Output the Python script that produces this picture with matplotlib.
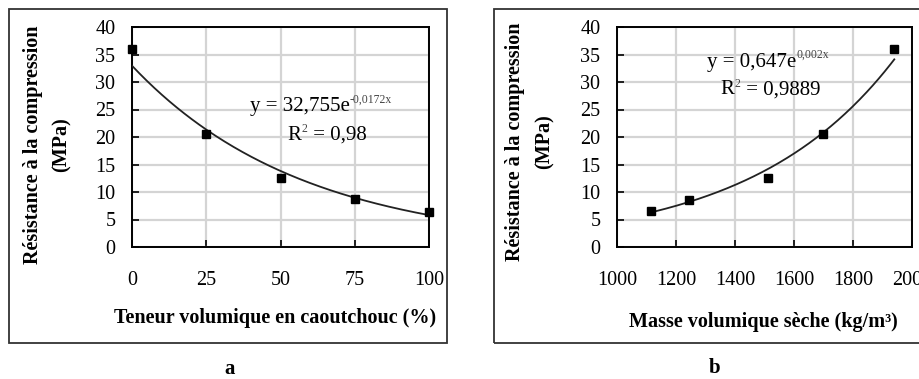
import numpy as np
import matplotlib
matplotlib.use("Agg")
import matplotlib.pyplot as plt
from matplotlib.patches import Rectangle

plt.rcParams['font.family'] = ['Liberation Serif', 'DejaVu Serif']

# Panel a data
rubber_pct = [0, 25, 50, 75, 100]
strength_a = [36.0, 20.5, 12.5, 8.7, 6.3]
# Panel b data
density = [1114, 1245, 1512, 1698, 1938]
strength_b = [6.5, 8.5, 12.6, 20.6, 36.0]

xticks_a = [0, 25, 50, 75, 100]
xticks_b = [1000, 1200, 1400, 1600, 1800, 2000]
yticks = [0, 5, 10, 15, 20, 25, 30, 35, 40]

W, H = 920, 379
fig = plt.figure(figsize=(W / 100, H / 100), dpi=100)

def fx(px):
    return px / W

def fy(py):
    return 1 - py / H

grid_c = '#d4d4d4'
fs_tick = 14.5
fs_lab = 14.5
fs_ann = 15

def style(ax, xlim, xt):
    ax.set_xlim(*xlim)
    ax.set_ylim(0, 40)
    ax.set_xticks(xt)
    ax.set_yticks(yticks)
    ax.grid(True, color=grid_c, linewidth=1.6)
    ax.set_axisbelow(True)
    for s in ax.spines.values():
        s.set_color('black')
        s.set_linewidth(1.4)
    ax.tick_params(axis='both', direction='in', length=5, width=1.2, labelsize=fs_tick)
    ax.tick_params(axis='x', pad=17)
    ax.tick_params(axis='y', pad=12)

# Panel a
axa = fig.add_axes([fx(132), fy(247), fx(429 - 132), (247 - 27) / H])
style(axa, (0, 100), xticks_a)
ca = np.polyfit(rubber_pct, np.log(strength_a), 1)
xa = np.linspace(0, 100, 200)
axa.plot(xa, np.exp(ca[1]) * np.exp(ca[0] * xa), color='#222222', lw=1.3, zorder=3)
axa.plot(rubber_pct, strength_a, 's', color='black', ms=5.5, clip_on=False, zorder=4)

# Panel b
axb = fig.add_axes([fx(617), fy(247), fx(912 - 617), (247 - 27) / H])
style(axb, (1000, 2000), xticks_b)
axb.set_xticklabels([str(v) for v in xticks_b])
cb = np.polyfit(density, np.log(strength_b), 1)
xb = np.linspace(min(density) + 15, max(density) + 2, 200)
axb.plot(xb, np.exp(cb[1]) * np.exp(cb[0] * xb), color='#222222', lw=1.3, zorder=3)
axb.plot(density, strength_b, 's', color='black', ms=5.5, clip_on=False, zorder=4)

renderer = fig.canvas.get_renderer()

def eq(xp, yp, base, sup):
    t = fig.text(fx(xp), fy(yp), base, fontsize=fs_ann, va='center', ha='left')
    bb = t.get_window_extent(renderer)
    fig.text(bb.x1 / W, fy(yp - 7), sup, fontsize=8.5, va='center', ha='left', color='#444444')

eq(250, 107, 'y = 32,755e', '-0,0172x')
eq(707, 62, 'y = 0,647e', '0,002x')

def r2(xp, yp, val):
    t = fig.text(fx(xp), fy(yp), 'R', fontsize=fs_ann, va='center', ha='left')
    bb = t.get_window_extent(renderer)
    s = fig.text(bb.x1 / W + 1 / W, fy(yp - 6), '2', fontsize=8.5, va='center', ha='left', color='#444444')
    bb2 = s.get_window_extent(renderer)
    fig.text(bb2.x1 / W, fy(yp), ' = ' + val, fontsize=fs_ann, va='center', ha='left')

r2(287, 135, '0,98')
r2(720, 90, '0,9889')

# Axis titles
fig.text(fx(33), fy(145), 'Résistance à la compression', rotation=90, ha='center', va='center',
         fontsize=fs_lab, fontweight='bold')
fig.text(fx(62), fy(145), '(MPa)', rotation=90, ha='center', va='center',
         fontsize=fs_lab, fontweight='bold')
fig.text(fx(515), fy(142), 'Résistance à la compression', rotation=90, ha='center', va='center',
         fontsize=fs_lab, fontweight='bold')
fig.text(fx(545), fy(142), '(MPa)', rotation=90, ha='center', va='center',
         fontsize=fs_lab, fontweight='bold')
fig.text(fx(275), fy(318), 'Teneur volumique en caoutchouc (%)', ha='center', va='center',
         fontsize=fs_lab, fontweight='bold')
fig.text(fx(763), fy(322), 'Masse volumique sèche (kg/m³)', ha='center', va='center',
         fontsize=fs_lab, fontweight='bold')

# Panel letters
fig.text(fx(230), fy(369), 'a', ha='center', va='center', fontsize=15, fontweight='bold')
fig.text(fx(715), fy(368), 'b', ha='center', va='center', fontsize=15, fontweight='bold')

# Outer frames
fig.add_artist(Rectangle((fx(9.5), fy(343)), fx(447 - 9.5), (343 - 8.5) / H,
                         transform=fig.transFigure, fill=False, edgecolor='#333333', lw=1.3))
fig.add_artist(Rectangle((fx(494), fy(343)), fx(940 - 494), (343 - 8.5) / H,
                         transform=fig.transFigure, fill=False, edgecolor='#333333', lw=1.3))

fig.savefig('out.png', dpi=100)
